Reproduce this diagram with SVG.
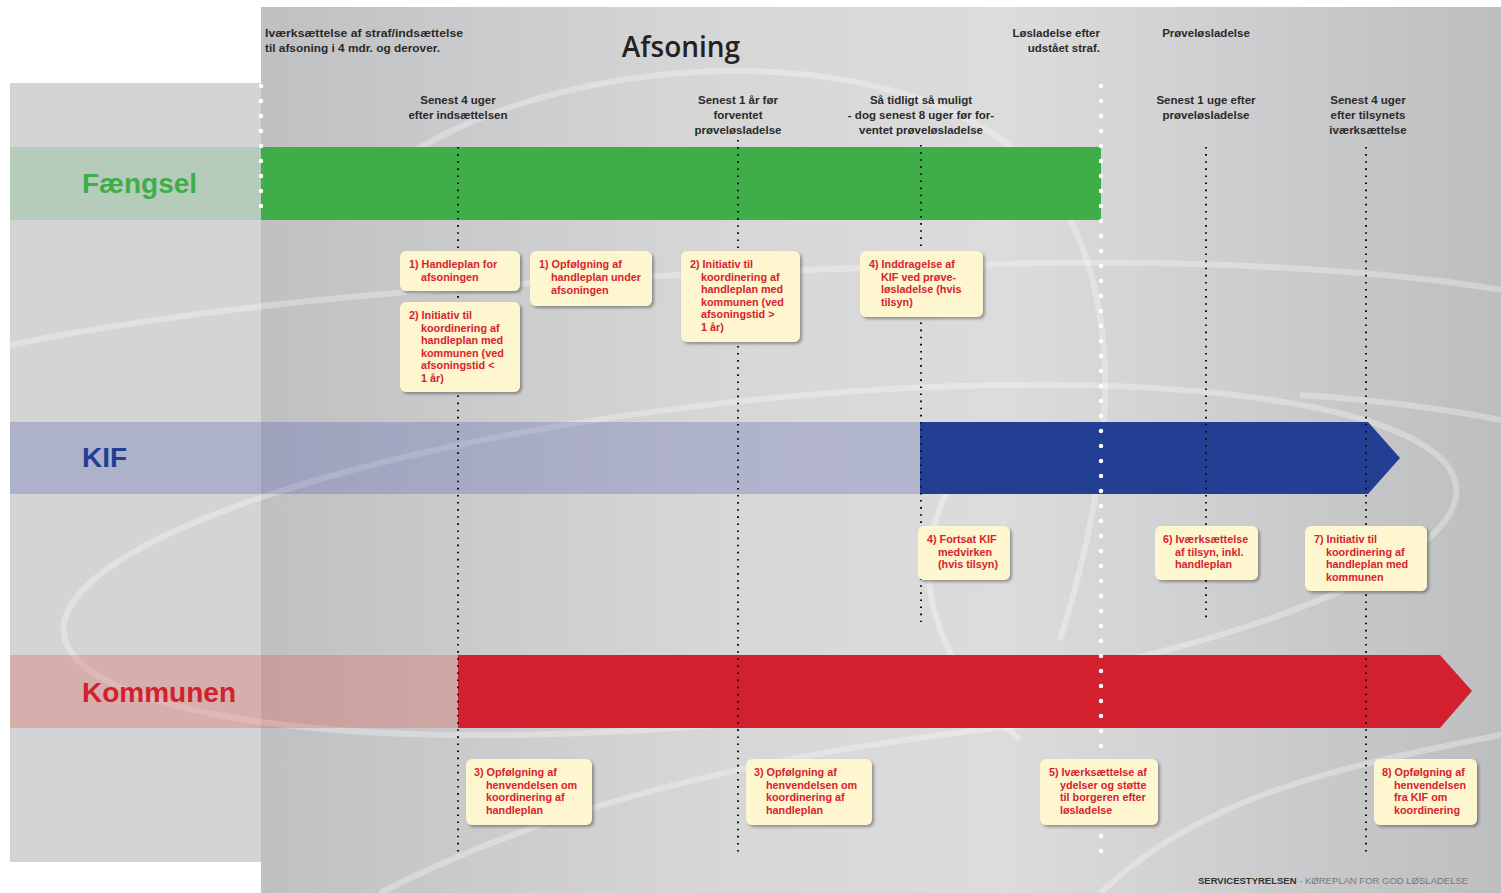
<svg xmlns="http://www.w3.org/2000/svg" width="1501" height="893" viewBox="0 0 1501 893">
<defs>
<linearGradient id="bg" x1="0" y1="0" x2="1" y2="0">
<stop offset="0" stop-color="#bfc0c2"/>
<stop offset="0.35" stop-color="#d6d6d7"/>
<stop offset="0.6" stop-color="#dcdcdd"/>
<stop offset="1" stop-color="#bdbec0"/>
</linearGradient>
<filter id="sh" x="-10%" y="-10%" width="130%" height="130%">
<feDropShadow dx="2" dy="2" stdDeviation="1.5" flood-color="#000" flood-opacity="0.35"/>
</filter>
<style>
.hd{font-family:"Liberation Sans",Arial,sans-serif;font-weight:bold;font-size:11.5px;fill:#2a2a2a}
.mid{text-anchor:middle}
.end{text-anchor:end}
.lane{font-family:"Liberation Sans",Arial,sans-serif;font-weight:bold;font-size:28px}
.box rect{fill:#fdf6cf;filter:url(#sh)}
.box text{font-family:"Liberation Sans",Arial,sans-serif;font-weight:bold;font-size:10.8px;fill:#d8222e}
.swirl{fill:none;stroke:#ffffff;stroke-opacity:0.3;stroke-width:6}
.bdot{stroke:#111;stroke-width:2;stroke-dasharray:1.6 5.5;fill:none}
.wdot{stroke:#fff;stroke-width:4.5;stroke-linecap:round;stroke-dasharray:0 15;fill:none}
</style>
</defs>
<rect x="0" y="0" width="1501" height="893" fill="#ffffff"/>
<rect x="10" y="83" width="251" height="779" fill="#d3d4d6"/>
<rect x="261" y="7" width="1240" height="886" fill="url(#bg)"/>
<g id="swirls">
<path class="swirl" d="M 400,160 C 580,40 950,30 1060,200 C 1130,320 1110,480 1060,640"/>
<path class="swirl" d="M 10,345 C 300,285 700,272 1000,264 C 1200,258 1400,272 1501,290"/>
<path class="swirl" d="M 380,893 C 600,780 900,720 1320,705"/>
<path class="swirl" d="M 1100,893 C 1200,800 1320,770 1501,735"/>
<ellipse class="swirl" cx="760" cy="560" rx="700" ry="160" transform="rotate(-6 760 560)"/>
<path class="swirl" d="M 960,470 C 900,560 930,660 1020,740"/>
<path class="swirl" d="M 1300,395 C 1380,400 1450,410 1501,420"/>
</g>
<g id="lane-faengsel">
<rect x="10" y="147" width="251" height="73" fill="#3fae49" fill-opacity="0.2"/>
<rect x="261" y="147" width="840" height="73" fill="#3fae49"/>
<text class="lane" x="82" y="193" fill="#3fae49">Fængsel</text>
</g>
<g id="lane-kif">
<rect x="10" y="422" width="910" height="72" fill="#3a48a8" fill-opacity="0.25"/>
<polygon points="920,422 1368,422 1400,458 1368,494 920,494" fill="#233f93"/>
<text class="lane" x="82" y="467" fill="#233f93">KIF</text>
</g>
<g id="lane-kommunen">
<rect x="10" y="655" width="448" height="73" fill="#e0402e" fill-opacity="0.25"/>
<polygon points="458,655 1440,655 1472,691 1440,728 458,728" fill="#d2202e"/>
<text class="lane" x="82" y="702" fill="#d2202e">Kommunen</text>
</g>
<g id="connectors">
<line class="wdot" x1="261" y1="86" x2="261" y2="218"/>
<line class="wdot" x1="1101" y1="86" x2="1101" y2="860"/>
<line class="bdot" x1="458" y1="147" x2="458" y2="852"/>
<line class="bdot" x1="738" y1="140" x2="738" y2="852"/>
<line class="bdot" x1="921" y1="145" x2="921" y2="622"/>
<line class="bdot" x1="1206" y1="147" x2="1206" y2="622"/>
<line class="bdot" x1="1366" y1="147" x2="1366" y2="852"/>
</g>
<g id="headers">
<text class="hd" x="265" y="37" textLength="198" lengthAdjust="spacingAndGlyphs">Iværksættelse af straf/indsættelse</text>
<text class="hd" x="265" y="52" textLength="175" lengthAdjust="spacingAndGlyphs">til afsoning i 4 mdr. og derover.</text>
<text x="681" y="57" text-anchor="middle" font-family="'Open Sans','Liberation Sans',sans-serif" font-weight="600" font-size="28" fill="#222">Afsoning</text>
<text class="hd end" x="1100" y="37">Løsladelse efter</text>
<text class="hd end" x="1100" y="52">udstået straf.</text>
<text class="hd mid" x="1206" y="37">Prøveløsladelse</text>
<text class="hd mid" x="458" y="104">Senest 4 uger</text>
<text class="hd mid" x="458" y="119">efter indsættelsen</text>
<text class="hd mid" x="738" y="104">Senest 1 år før</text>
<text class="hd mid" x="738" y="119">forventet</text>
<text class="hd mid" x="738" y="134">prøveløsladelse</text>
<text class="hd mid" x="921" y="104">Så tidligt så muligt</text>
<text class="hd mid" x="921" y="119">- dog senest 8 uger før for-</text>
<text class="hd mid" x="921" y="134">ventet prøveløsladelse</text>
<text class="hd mid" x="1206" y="104">Senest 1 uge efter</text>
<text class="hd mid" x="1206" y="119">prøveløsladelse</text>
<text class="hd mid" x="1368" y="104">Senest 4 uger</text>
<text class="hd mid" x="1368" y="119">efter tilsynets</text>
<text class="hd mid" x="1368" y="134">iværksættelse</text>
</g>
<g id="box1" class="box">
<rect x="400" y="251" width="120" height="40" rx="6"/>
<text x="409" y="268">1) Handleplan for</text>
<text x="421" y="281">afsoningen</text>
</g>
<g id="box2" class="box">
<rect x="400" y="302" width="120" height="90" rx="6"/>
<text x="409" y="319">2) Initiativ til</text>
<text x="421" y="332">koordinering af</text>
<text x="421" y="344">handleplan med</text>
<text x="421" y="357">kommunen (ved</text>
<text x="421" y="369">afsoningstid &lt;</text>
<text x="421" y="382">1 år)</text>
</g>
<g id="box3" class="box">
<rect x="530" y="251" width="122" height="55" rx="6"/>
<text x="539" y="268">1) Opfølgning af</text>
<text x="551" y="281">handleplan under</text>
<text x="551" y="294">afsoningen</text>
</g>
<g id="box4" class="box">
<rect x="681" y="251" width="119" height="91" rx="6"/>
<text x="690" y="268">2) Initiativ til</text>
<text x="701" y="281">koordinering af</text>
<text x="701" y="293">handleplan med</text>
<text x="701" y="306">kommunen (ved</text>
<text x="701" y="318">afsoningstid &gt;</text>
<text x="701" y="331">1 år)</text>
</g>
<g id="box5" class="box">
<rect x="860" y="251" width="123" height="66" rx="6"/>
<text x="869" y="268">4) Inddragelse af</text>
<text x="881" y="281">KIF ved prøve-</text>
<text x="881" y="293">løsladelse (hvis</text>
<text x="881" y="306">tilsyn)</text>
</g>
<g id="box6" class="box">
<rect x="918" y="526" width="92" height="54" rx="6"/>
<text x="927" y="543">4) Fortsat KIF</text>
<text x="938" y="556">medvirken</text>
<text x="938" y="568">(hvis tilsyn)</text>
</g>
<g id="box7" class="box">
<rect x="1155" y="526" width="103" height="54" rx="6"/>
<text x="1163" y="543">6) Iværksættelse</text>
<text x="1175" y="556">af tilsyn, inkl.</text>
<text x="1175" y="568">handleplan</text>
</g>
<g id="box8" class="box">
<rect x="1305" y="526" width="122" height="65" rx="6"/>
<text x="1314" y="543">7) Initiativ til</text>
<text x="1326" y="556">koordinering af</text>
<text x="1326" y="568">handleplan med</text>
<text x="1326" y="581">kommunen</text>
</g>
<g id="box9" class="box">
<rect x="466" y="759" width="126" height="66" rx="6"/>
<text x="474" y="776">3) Opfølgning af</text>
<text x="486" y="789">henvendelsen om</text>
<text x="486" y="801">koordinering af</text>
<text x="486" y="814">handleplan</text>
</g>
<g id="box10" class="box">
<rect x="746" y="759" width="126" height="66" rx="6"/>
<text x="754" y="776">3) Opfølgning af</text>
<text x="766" y="789">henvendelsen om</text>
<text x="766" y="801">koordinering af</text>
<text x="766" y="814">handleplan</text>
</g>
<g id="box11" class="box">
<rect x="1040" y="759" width="118" height="66" rx="6"/>
<text x="1049" y="776">5) Iværksættelse af</text>
<text x="1060" y="789">ydelser og støtte</text>
<text x="1060" y="801">til borgeren efter</text>
<text x="1060" y="814">løsladelse</text>
</g>
<g id="box12" class="box">
<rect x="1374" y="759" width="103" height="66" rx="6"/>
<text x="1382" y="776">8) Opfølgning af</text>
<text x="1394" y="789">henvendelsen</text>
<text x="1394" y="801">fra KIF om</text>
<text x="1394" y="814">koordinering</text>
</g>
<g id="footer">
<text x="1198" y="884" font-family="'Liberation Sans',Arial,sans-serif" font-size="9.5" fill="#333"><tspan font-weight="bold">SERVICESTYRELSEN</tspan><tspan fill="#777"> - KØREPLAN FOR GOD LØSLADELSE</tspan></text>
</g>
</svg>
